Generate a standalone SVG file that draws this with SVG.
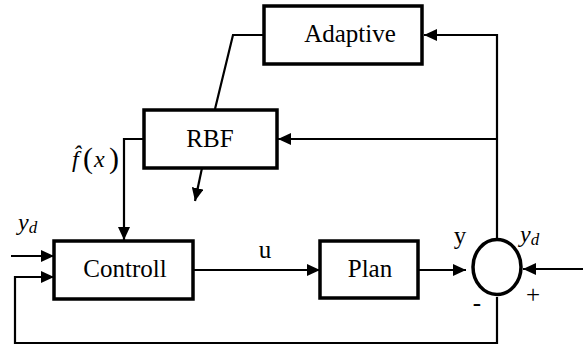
<svg xmlns="http://www.w3.org/2000/svg" width="585" height="347" viewBox="0 0 585 347">
<defs>
<marker id="arr" markerUnits="userSpaceOnUse" markerWidth="14" markerHeight="12" refX="13" refY="6" orient="auto">
<path d="M0,0 L13,6 L0,12 z" fill="#000"/>
</marker>
<style>
.box{fill:#fff;stroke:#000;stroke-width:3.5}
.ln{fill:none;stroke:#000;stroke-width:2.2}
.ar{fill:none;stroke:#000;stroke-width:2.2;marker-end:url(#arr)}
text{font-family:"Times New Roman","Liberation Serif","Tinos","DejaVu Serif","Noto Serif",serif;fill:#000}
.t{font-size:25px}
.m{font-style:italic}
</style>
</defs>
<rect width="585" height="347" fill="#fff"/>
<g id="connectors">
<polyline class="ln" points="264,35 233,35 215,109"/>
<line class="ar" x1="202" y1="168" x2="195" y2="201"/>
<polyline class="ar" points="143,139 124,139 124,240"/>
<line class="ar" x1="11" y1="256" x2="54" y2="256"/>
<polyline class="ar" points="497,297 497,343 15,343 15,277 54,277"/>
<line class="ar" x1="193" y1="270" x2="320" y2="270"/>
<line class="ar" x1="418" y1="270" x2="466" y2="270"/>
<line class="ar" x1="583" y1="269" x2="523" y2="269"/>
<polyline class="ar" points="497,239 497,35 424,35"/>
<line class="ar" x1="497" y1="139" x2="278" y2="139"/>
</g>
<g id="adaptive">
<rect class="box" x="264" y="6" width="158" height="58"/>
<text class="t" x="350" y="42" text-anchor="middle">Adaptive</text>
</g>
<g id="rbf">
<rect class="box" x="144" y="110" width="133" height="58"/>
<text class="t" x="210" y="147" text-anchor="middle">RBF</text>
</g>
<g id="controll">
<rect class="box" x="54" y="241" width="139" height="58"/>
<text class="t" x="125" y="277" text-anchor="middle">Controll</text>
</g>
<g id="plan">
<rect class="box" x="320" y="241" width="98" height="57"/>
<text class="t" x="370" y="277" text-anchor="middle">Plan</text>
</g>
<g id="sum">
<ellipse cx="497" cy="267" rx="24" ry="27.5" fill="#fff" stroke="#000" stroke-width="3.5"/>
<text class="t" x="460" y="244" text-anchor="middle">y</text>
<text class="m" x="520" y="242" font-size="24">y<tspan font-size="17" dy="3">d</tspan></text>
<text class="t" x="533" y="303" text-anchor="middle">+</text>
<text class="t" x="477" y="311" text-anchor="middle">-</text>
</g>
<g id="labels">
<text class="t" x="265" y="258" text-anchor="middle">u</text>
<text class="m" x="18" y="230" font-size="24">y<tspan font-size="17" dy="3">d</tspan></text>
<text class="m" x="72" y="167" font-size="24">f̂<tspan x="83" font-style="normal" font-size="30" dy="1">(</tspan><tspan x="94" dy="-1">x</tspan><tspan x="109" font-style="normal" font-size="30" dy="1">)</tspan></text>
</g>
</svg>
